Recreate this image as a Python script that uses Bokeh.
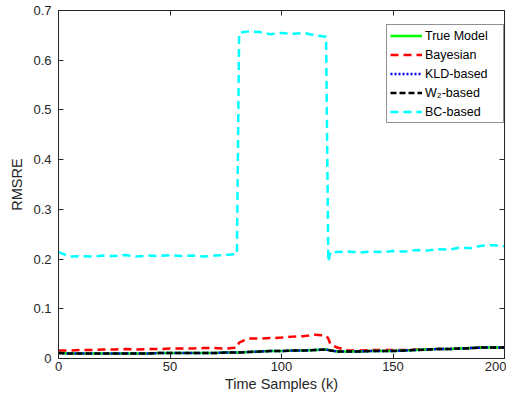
from bokeh.plotting import figure
from bokeh.models import Range1d, LinearAxis, Legend, LegendItem, FixedTicker, CustomJSTickFormatter
from bokeh.embed import file_html
from bokeh.resources import INLINE

# time samples
k = [0, 5, 10, 15, 20, 25, 30, 35, 40, 45, 50, 55, 60, 65, 70, 75, 80, 81,
     85, 90, 95, 100, 105, 110, 115, 120, 121, 122, 125, 130, 135, 140, 145,
     150, 155, 160, 165, 170, 175, 180, 185, 190, 195, 200]

bc = [0.214, 0.205, 0.206, 0.205, 0.207, 0.206, 0.208, 0.205, 0.207, 0.206, 0.208, 0.206, 0.207, 0.205, 0.207, 0.208, 0.210, 0.655,
      0.658, 0.657, 0.652, 0.655, 0.653, 0.655, 0.650, 0.647, 0.195, 0.215, 0.214, 0.215, 0.213, 0.215, 0.214,
      0.216, 0.215, 0.218, 0.217, 0.220, 0.219, 0.223, 0.222, 0.227, 0.228, 0.226]

bayes = [0.016, 0.016, 0.017, 0.017, 0.018, 0.018, 0.019, 0.018, 0.019, 0.019, 0.020, 0.020, 0.020, 0.021, 0.021, 0.020, 0.022, 0.032,
         0.040, 0.040, 0.041, 0.042, 0.044, 0.045, 0.048, 0.046, 0.040, 0.028, 0.022, 0.016, 0.016, 0.017, 0.017,
         0.017, 0.017, 0.018, 0.018, 0.019, 0.019, 0.020, 0.021, 0.022, 0.022, 0.022]

true_m = [0.011, 0.010, 0.010, 0.010, 0.010, 0.010, 0.010, 0.010, 0.010, 0.011, 0.011, 0.011, 0.011, 0.011, 0.011, 0.012, 0.012, 0.012,
          0.013, 0.014, 0.015, 0.015, 0.016, 0.016, 0.017, 0.018, 0.017, 0.016, 0.014, 0.014, 0.014, 0.015, 0.015,
          0.015, 0.016, 0.017, 0.018, 0.019, 0.019, 0.020, 0.021, 0.022, 0.022, 0.022]

kld = list(true_m)
w2 = list(true_m)

labels = ["True Model", "Bayesian", "KLD-based", "W\u2082-based", "BC-based"]
yticks = [0, 0.1, 0.2, 0.3, 0.4, 0.5, 0.6, 0.7]
ytick_labels = ["0", "0.1", "0.2", "0.3", "0.4", "0.5", "0.6", "0.7"]
xticks = [0, 50, 100, 150, 200]

FONT = "Liberation Sans"
AX = "#262626"

p = figure(frame_width=446, frame_height=348, output_backend="svg", toolbar_location=None,
           x_range=Range1d(0, 200), y_range=Range1d(0, 0.7),
           min_border_left=58, min_border_right=2, min_border_top=10, min_border_bottom=37)
p.background_fill_color = "white"
p.border_fill_color = "white"
p.outline_line_color = AX
p.outline_line_width = 1
p.grid.visible = False

for ax in [p.xaxis[0], p.yaxis[0]]:
    ax.major_tick_in = 5
    ax.major_tick_out = 0
    ax.minor_tick_line_color = None
    ax.axis_line_color = AX
    ax.major_tick_line_color = AX
    ax.major_label_text_font = FONT
    ax.major_label_text_font_size = "13px"
    ax.major_label_text_color = AX
    ax.axis_label_text_font = FONT
    ax.axis_label_text_font_size = "14.5px"
    ax.axis_label_text_font_style = "normal"
    ax.axis_label_text_color = AX

p.xaxis.ticker = FixedTicker(ticks=xticks)
p.yaxis.ticker = FixedTicker(ticks=yticks)
p.yaxis.major_label_overrides = {t: l for t, l in zip(yticks, ytick_labels)}
p.xaxis.axis_label = "Time Samples (k)"
p.yaxis.axis_label = "RMSRE"
p.xaxis.axis_label_standoff = 2
p.yaxis.axis_label_standoff = 5
p.xaxis.major_label_standoff = 3
p.yaxis.major_label_standoff = 7

blank = CustomJSTickFormatter(code="return ''")
# box ticks on right/top
ra = LinearAxis(ticker=FixedTicker(ticks=yticks), formatter=blank,
                major_tick_in=5, major_tick_out=0, minor_tick_line_color=None,
                axis_line_color=AX, major_tick_line_color=AX, major_label_standoff=0)
p.add_layout(ra, "right")
ta = LinearAxis(ticker=FixedTicker(ticks=xticks), formatter=blank,
                major_tick_in=5, major_tick_out=0, minor_tick_line_color=None,
                axis_line_color=AX, major_tick_line_color=AX, major_label_standoff=0)
p.add_layout(ta, "above")

r_bc = p.line(k, bc, line_color="#00FFFF", line_width=2.5, line_dash="8 5")
r_bay = p.line(k, bayes, line_color="#FF0000", line_width=2.5, line_dash="8 5")
r_true = p.line(k, true_m, line_color="#00FF00", line_width=2.5)
r_kld = p.line(k, kld, line_color="#0000FF", line_width=2.5, line_dash="2 2")
r_w2 = p.line(k, w2, line_color="#000000", line_width=2.5, line_dash="6 3")

legend = Legend(items=[
    LegendItem(label=labels[0], renderers=[r_true]),
    LegendItem(label=labels[1], renderers=[r_bay]),
    LegendItem(label=labels[2], renderers=[r_kld]),
    LegendItem(label=labels[3], renderers=[r_w2]),
    LegendItem(label=labels[4], renderers=[r_bc]),
], location=(328, 235))
legend.label_text_font = FONT
legend.label_text_font_size = "12.5px"
legend.label_text_color = "#000000"
legend.border_line_color = AX
legend.border_line_width = 1
legend.background_fill_alpha = 1
legend.glyph_width = 32
legend.glyph_height = 15
legend.label_height = 15
legend.label_width = 75
legend.spacing = 4
legend.padding = 3
legend.margin = 0
legend.label_standoff = 3
p.add_layout(legend)

open("out.html", "w").write(file_html(p, INLINE))
